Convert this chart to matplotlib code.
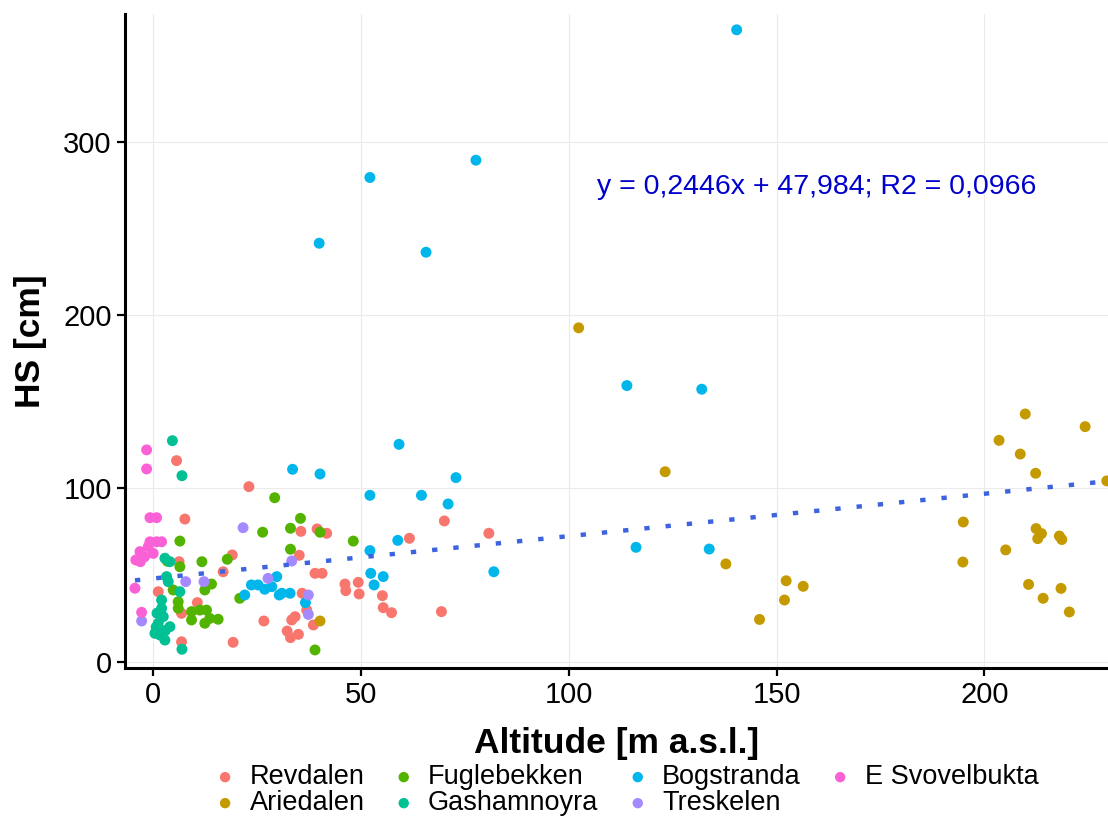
import matplotlib
matplotlib.use("Agg")
import matplotlib.pyplot as plt
import numpy as np

plt.rcParams['font.family'] = ['Liberation Sans', 'DejaVu Sans']

# sites in factor order, with ggplot hue colours
sites = ["Revdalen", "Ariedalen", "Fuglebekken", "Gashamnoyra",
         "Bogstranda", "Treskelen", "E Svovelbukta"]
colors = ["#F8766D", "#C49A00", "#53B400", "#00C094",
          "#00B6EB", "#A58AFF", "#FB61D7"]

revdalen_alt = [5.7, 23.1, 7.7, 19.1, 6.3, 16.9, 1.3, 10.7, 6.9, 6.9, 26.7, 19.3,
                35.6, 39.5, 41.8, 61.7, 35.2, 39.0, 40.7, 46.2, 46.4, 49.4, 49.6,
                55.2, 55.4, 57.4, 35.9, 37.0, 34.2, 33.4, 38.6, 32.3, 33.1, 35.0,
                70.1, 80.8, 69.4]
revdalen_hs = [116.0, 101.0, 82.3, 61.6, 57.7, 51.9, 40.4, 34.1, 27.9, 11.5, 23.5, 11.2,
               75.2, 76.6, 74.1, 71.2, 61.4, 51.0, 51.0, 44.8, 41.0, 45.8, 39.1,
               38.1, 31.2, 28.3, 39.5, 29.8, 26.0, 24.1, 21.2, 17.7, 13.9, 15.8,
               81.2, 74.1, 28.9]

ariedalen_alt = [102.4, 123.2, 137.8, 152.3, 156.4, 151.9, 145.9, 209.8, 224.2, 203.5,
                 208.6, 212.3, 229.4, 194.9, 212.4, 213.7, 212.8, 218.0, 218.6, 205.1,
                 194.8, 210.6, 218.4, 214.1, 220.4, 40.2]
ariedalen_hs = [192.6, 109.6, 56.4, 46.7, 43.5, 35.6, 24.4, 142.9, 135.6, 127.7,
                119.8, 108.7, 104.3, 80.6, 76.8, 73.9, 71.0, 72.5, 70.5, 64.5,
                57.5, 44.6, 42.3, 36.6, 28.7, 23.5]

fuglebekken_alt = [29.3, 26.4, 35.5, 33.1, 40.2, 48.2, 33.1, 6.5, 17.9, 6.5, 11.8, 14.1,
                   4.9, 12.5, 20.9, 6.1, 6.1, 9.3, 9.3, 11.3, 12.9, 12.5, 13.7, 15.7,
                   39.0, 3.5]
fuglebekken_hs = [94.6, 74.7, 82.7, 77.0, 74.7, 69.6, 64.9, 69.6, 59.1, 54.8, 57.7, 44.8,
                  41.4, 41.4, 36.6, 34.6, 30.8, 28.9, 24.1, 29.8, 29.8, 22.2, 25.0, 24.5,
                  6.8, 58.0]

gashamnoyra_alt = [4.7, 7.0, 2.9, 4.1, 3.3, 3.7, 6.5, 2.1, 2.1, 2.5, 1.3, 4.1, 0.5,
                   1.7, 2.9, 7.0, 1.0, 3.0, 0.8]
gashamnoyra_hs = [127.5, 107.3, 59.7, 57.7, 49.1, 46.2, 40.4, 35.6, 30.8, 26.0, 22.2,
                  20.2, 16.4, 15.4, 12.5, 7.2, 28.0, 18.0, 20.0]

bogstranda_alt = [140.4, 52.2, 77.7, 40.0, 65.7, 114.0, 132.0, 72.9, 64.6, 71.0, 82.0,
                  116.2, 133.8, 59.2, 33.6, 40.2, 52.2, 58.9, 52.2, 52.4, 55.4, 53.2,
                  29.8, 28.6, 31.0, 33.0, 36.7, 22.1, 23.7, 25.3, 26.9, 30.4]
bogstranda_hs = [364.5, 279.3, 289.3, 241.4, 236.2, 159.3, 157.2, 106.2, 96.0, 91.0, 51.9,
                 66.0, 65.0, 125.4, 111.0, 108.3, 96.0, 70.0, 64.1, 51.0, 49.1, 44.3,
                 49.1, 43.3, 39.5, 39.5, 34.1, 38.5, 44.3, 44.3, 41.8, 38.5]

treskelen_alt = [21.7, 7.9, 12.3, 27.7, 33.4, 37.4, 37.4, -2.7]
treskelen_hs = [77.3, 46.2, 46.2, 48.1, 58.1, 38.5, 27.3, 23.5]

svovelbukta_alt = [-1.5, -1.5, -0.7, 0.9, -0.7, 0.9, 2.1, -3.1, -4.1, -3.0, 0.1, -1.1,
                   -4.3, -2.7, -2.0]
svovelbukta_hs = [122.2, 111.2, 83.1, 83.1, 69.2, 69.2, 69.2, 63.5, 58.7, 57.7, 62.5,
                  66.4, 42.4, 28.5, 60.5]

alts = [revdalen_alt, ariedalen_alt, fuglebekken_alt, gashamnoyra_alt,
        bogstranda_alt, treskelen_alt, svovelbukta_alt]
hss = [revdalen_hs, ariedalen_hs, fuglebekken_hs, gashamnoyra_hs,
       bogstranda_hs, treskelen_hs, svovelbukta_hs]

# linear trend as reported on the chart
slope = 0.2446
intercept = 47.984
label = "y = 0,2446x + 47,984; R2 = 0,0966"

fig = plt.figure(figsize=(11.08, 8.16), dpi=100)
ax = fig.add_axes([0.1128, 0.1814, 0.8872, 0.8016])

for name, col, x, y in zip(sites, colors, alts, hss):
    ax.scatter(x, y, s=62, color=col, edgecolors='none', label=name, zorder=3)

all_x = np.concatenate([np.array(a) for a in alts])
xs = np.array([all_x.min(), all_x.max()])
ax.plot(xs, intercept + slope * xs, color='#3D64DE', lw=3.2,
        linestyle=(0, (1.2, 3.6)), dash_capstyle='butt', zorder=4)

ax.text(106.8, 274, label, color='#0000CC', fontsize=20.5, ha='left', va='center')

ax.set_xlim(-6.7, 229.7)
ax.set_ylim(-3.6, 373.7)
ax.set_xticks([0, 50, 100, 150, 200])
ax.set_yticks([0, 100, 200, 300])
ax.grid(True, color='#EBEBEB', lw=0.8, zorder=0)
ax.set_axisbelow(True)

for s in ['top', 'right']:
    ax.spines[s].set_visible(False)
for s in ['left', 'bottom']:
    ax.spines[s].set_linewidth(2.2)
    ax.spines[s].set_color('black')
ax.tick_params(length=5.5, width=1.6, labelsize=21, colors='black', pad=4)

ax.set_xlabel("Altitude [m a.s.l.]", fontsize=25.5, fontweight='bold', labelpad=13)
ax.set_ylabel("HS [cm]", fontsize=25.5, fontweight='bold', labelpad=12)

fig.legend(loc='upper center', bbox_to_anchor=(0.564, 0.08), ncol=4, frameon=False,
           fontsize=19.5, handletextpad=0.4, columnspacing=0.95, labelspacing=0.0,
           borderpad=0, markerscale=0.95, handlelength=1.0)

fig.savefig("out.png", dpi=100)
